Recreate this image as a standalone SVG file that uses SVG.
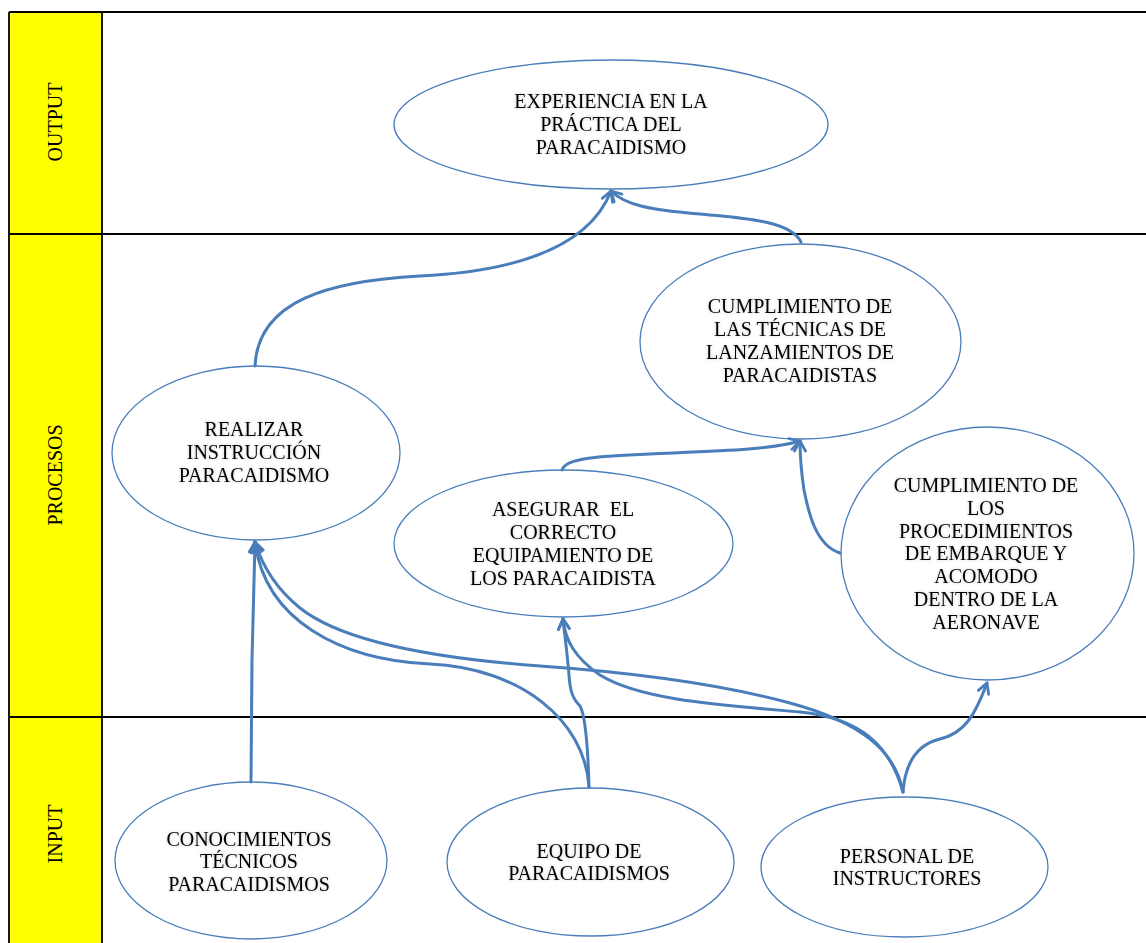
<svg xmlns="http://www.w3.org/2000/svg" width="1146" height="943" viewBox="0 0 1146 943">
<style>
.grid{stroke:#000;stroke-width:1.8;fill:none}
.node{fill:#fff;stroke:#4A7EBB;stroke-width:1.3}
.lbl{font-family:"Liberation Serif","Times New Roman",serif;font-size:20px;fill:#000;text-anchor:middle}
.con{fill:none;stroke:#4A7EBB;stroke-width:3;stroke-linecap:round;marker-end:url(#arr)}
</style>
<defs>
<marker id="arr" viewBox="0 0 14 14" refX="12" refY="7" markerWidth="14" markerHeight="14" markerUnits="userSpaceOnUse" orient="auto">
<path d="M2,1.5 L12,7 L2,12.5" fill="none" stroke="#4A7EBB" stroke-width="2.8" stroke-linecap="round" stroke-linejoin="round"/>
</marker>
<filter id="sh" x="-10%" y="-20%" width="120%" height="140%">
<feGaussianBlur in="SourceAlpha" stdDeviation="1.6" result="b"/>
<feFlood flood-color="#000" flood-opacity="0.22"/>
<feComposite in2="b" operator="in" result="s"/>
<feMerge><feMergeNode in="s"/><feMergeNode in="SourceGraphic"/></feMerge>
</filter>
</defs>
<rect width="1146" height="943" fill="#fff"/>
<g id="lanes">
<rect x="9" y="12" width="93" height="931" fill="#FFFF00"/>
<line class="grid" x1="9" y1="12" x2="1146" y2="12"/>
<line class="grid" x1="9" y1="234" x2="1146" y2="234"/>
<line class="grid" x1="9" y1="717" x2="1146" y2="717"/>
<line class="grid" x1="9" y1="12" x2="9" y2="943"/>
<line class="grid" x1="102" y1="12" x2="102" y2="943"/>
<text class="lbl" transform="translate(62,122) rotate(-90)">OUTPUT</text>
<text class="lbl" transform="translate(62,475) rotate(-90)">PROCESOS</text>
<text class="lbl" transform="translate(62,834) rotate(-90)">INPUT</text>
</g>
<g id="n-experiencia">
<ellipse class="node" cx="611" cy="124.5" rx="217" ry="64.5"/>
<text class="lbl" filter="url(#sh)"><tspan x="611" y="108">EXPERIENCIA EN LA</tspan><tspan x="611" y="131">PRÁCTICA DEL</tspan><tspan x="611" y="154">PARACAIDISMO</tspan></text>
</g>
<g id="n-realizar">
<ellipse class="node" cx="256" cy="453" rx="144" ry="87"/>
<text class="lbl" filter="url(#sh)"><tspan x="254" y="436">REALIZAR</tspan><tspan x="254" y="459">INSTRUCCIÓN</tspan><tspan x="254" y="482">PARACAIDISMO</tspan></text>
</g>
<g id="n-tecnicas">
<ellipse class="node" cx="800.5" cy="341.5" rx="160.5" ry="97.5"/>
<text class="lbl" filter="url(#sh)"><tspan x="800" y="313">CUMPLIMIENTO DE</tspan><tspan x="800" y="336">LAS TÉCNICAS DE</tspan><tspan x="800" y="359">LANZAMIENTOS DE</tspan><tspan x="800" y="382">PARACAIDISTAS</tspan></text>
</g>
<g id="n-asegurar">
<ellipse class="node" cx="563.5" cy="543.5" rx="169.5" ry="73.5"/>
<text class="lbl" filter="url(#sh)" xml:space="preserve"><tspan x="563" y="516">ASEGURAR  EL</tspan><tspan x="563" y="539">CORRECTO</tspan><tspan x="563" y="562">EQUIPAMIENTO DE</tspan><tspan x="563" y="585">LOS PARACAIDISTA</tspan></text>
</g>
<g id="n-procedimientos">
<ellipse class="node" cx="987.5" cy="553.5" rx="146.5" ry="126.5"/>
<text class="lbl" filter="url(#sh)"><tspan x="986" y="492">CUMPLIMIENTO DE</tspan><tspan x="986" y="515">LOS</tspan><tspan x="986" y="538">PROCEDIMIENTOS</tspan><tspan x="986" y="560">DE EMBARQUE Y</tspan><tspan x="986" y="583">ACOMODO</tspan><tspan x="986" y="606">DENTRO DE LA</tspan><tspan x="986" y="629">AERONAVE</tspan></text>
</g>
<g id="n-conocimientos">
<ellipse class="node" cx="251" cy="860.5" rx="136" ry="78.5"/>
<text class="lbl" filter="url(#sh)"><tspan x="249" y="846">CONOCIMIENTOS</tspan><tspan x="249" y="868">TÉCNICOS</tspan><tspan x="249" y="891">PARACAIDISMOS</tspan></text>
</g>
<g id="n-equipo">
<ellipse class="node" cx="590.5" cy="862" rx="143.5" ry="74"/>
<text class="lbl" filter="url(#sh)"><tspan x="589" y="858">EQUIPO DE</tspan><tspan x="589" y="880">PARACAIDISMOS</tspan></text>
</g>
<g id="n-personal">
<ellipse class="node" cx="904.5" cy="867" rx="143.5" ry="70"/>
<text class="lbl" filter="url(#sh)"><tspan x="907" y="863">PERSONAL DE</tspan><tspan x="907" y="885">INSTRUCTORES</tspan></text>
</g>
<g id="connectors">
<path class="con" d="M255,366 C258,300 330,281 420,276 C520,271 590,245 611,191"/>
<path class="con" d="M801,242 C790,220 740,218 700,214 C650,210 625,205 611,191"/>
<path class="con" d="M251,782 L252,660 L255,542"/>
<path class="con" d="M589,787 C585,720 520,668 430,664 C340,660 265,620 255,542"/>
<path class="con" d="M903,792 C895,750 860,722 790,703 C720,684 640,673 540,666 C430,658 340,640 300,608 C275,588 262,565 255,542"/>
<path class="con" d="M903,792 C890,745 860,718 800,712 C720,705 640,700 600,675 C575,658 565,640 563,619"/>
<path class="con" d="M589,787 C588,750 585,715 580,706 C572,698 570,690 569,675 C567,650 564,630 563,619"/>
<path class="con" d="M562,470 C565,458 600,456 650,454 C720,451 770,450 800,441"/>
<path class="con" d="M840,553 C815,545 808,510 804,490 C801,470 800,455 800,441"/>
<path class="con" d="M903,792 C905,765 915,745 940,739 C965,733 975,715 987,683"/>
</g>
</svg>
